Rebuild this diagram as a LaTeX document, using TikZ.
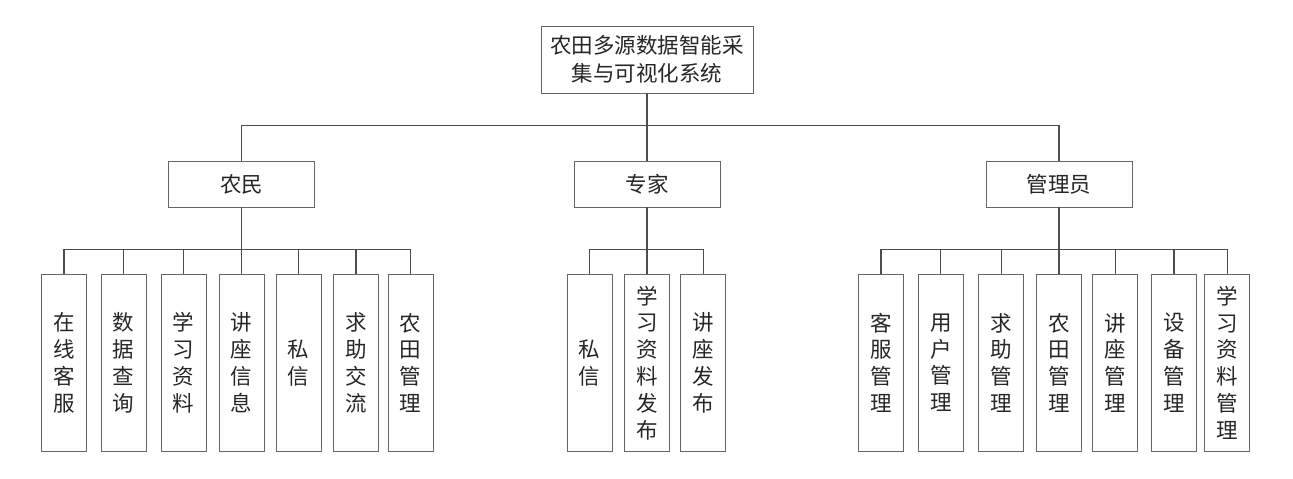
\documentclass[tikz,border=0pt]{standalone}
\usepackage{fontspec}
\newfontfamily\cjk{Noto Sans CJK SC}
\begin{document}
\begin{tikzpicture}[x=1pt,y=-1pt,
  box/.style={draw=black!60,line width=0.9pt,inner sep=0pt,align=center,text=black!85},
  rootbox/.style={box,minimum width=212pt,minimum height=67pt,font=\cjk\fontsize{21.5}{28.5}\selectfont},
  midbox/.style={box,minimum width=146pt,minimum height=46pt,font=\cjk\fontsize{21.5}{26}\selectfont},
  leaf/.style={box,minimum width=45pt,minimum height=177.5pt,font=\cjk\fontsize{21.5}{26.8}\selectfont},
  conn/.style={draw=black!70,line width=1.1pt}]
\useasboundingbox (0,0) rectangle (1293,479);
\node[rootbox] (root) at (647,59.5) {农田多源数据智能采\\集与可视化系统};
\node[midbox] (farmer) at (241.5,184) {农民};
\node[midbox] (expert) at (647,184) {专家};
\node[midbox] (admin) at (1059,184) {管理员};
% farmer leaves
\node[leaf] (f1) at (64,362.75) {在\\线\\客\\服};
\node[leaf] (f2) at (123.7,362.75) {数\\据\\查\\询};
\node[leaf] (f3) at (183.5,362.75) {学\\习\\资\\料};
\node[leaf] (f4) at (241.5,362.75) {讲\\座\\信\\息};
\node[leaf] (f5) at (298.5,362.75) {私\\信};
\node[leaf] (f6) at (356,362.75) {求\\助\\交\\流};
\node[leaf] (f7) at (410.5,362.75) {农\\田\\管\\理};
% expert leaves
\node[leaf] (e1) at (589.6,362.75) {私\\信};
\node[leaf] (e2) at (647,362.75) {学\\习\\资\\料\\发\\布};
\node[leaf] (e3) at (703.4,362.75) {讲\\座\\发\\布};
% admin leaves
\node[leaf] (a1) at (881,362.75) {客\\服\\管\\理};
\node[leaf] (a2) at (940.8,362.75) {用\\户\\管\\理};
\node[leaf] (a3) at (1001.4,362.75) {求\\助\\管\\理};
\node[leaf] (a4) at (1059,362.75) {农\\田\\管\\理};
\node[leaf] (a5) at (1115.4,362.75) {讲\\座\\管\\理};
\node[leaf] (a6) at (1174,362.75) {设\\备\\管\\理};
\node[leaf] (a7) at (1227.3,362.75) {学\\习\\资\\料\\管\\理};
% top level connectors
\draw[conn] (root.south) -- (expert.north);
\draw[conn] (farmer.north) -- ++(0,-35) -| (admin.north);
% farmer
\draw[conn] (farmer.south) -- (f4.north);
\draw[conn] (f1.north) -- ++(0,-24) -| (f7.north);
\foreach \n in {f2,f3,f5,f6} \draw[conn] (\n.north) -- ++(0,-24);
% expert
\draw[conn] (expert.south) -- (e2.north);
\draw[conn] (e1.north) -- ++(0,-24) -| (e3.north);
% admin
\draw[conn] (admin.south) -- (a4.north);
\draw[conn] (a1.north) -- ++(0,-24) -| (a7.north);
\foreach \n in {a2,a3,a5,a6} \draw[conn] (\n.north) -- ++(0,-24);
\end{tikzpicture}
\end{document}
